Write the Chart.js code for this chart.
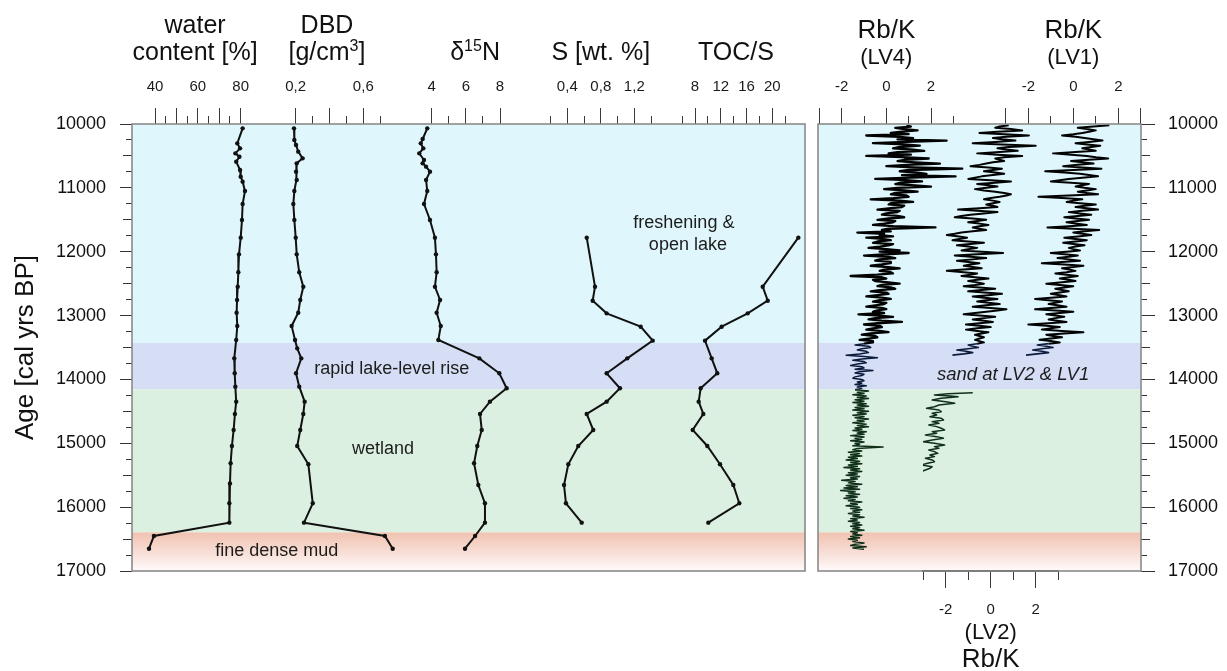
<!DOCTYPE html>
<html>
<head>
<meta charset="utf-8">
<script src="https://cdn.jsdelivr.net/npm/chart.js@4.4.1/dist/chart.umd.min.js"></script>
<style>
  html, body { margin: 0; padding: 0; background: #fff; }
  #page { position: relative; width: 1227px; height: 671px; overflow: hidden; }
  #geo { position: absolute; left: 0; top: 0; }
  #xrf { position: absolute; left: 812px; top: 0; }
</style>
</head>
<body>
<div id="page">
  <canvas id="geo" width="812" height="671"></canvas>
  <canvas id="xrf" width="415" height="671"></canvas>
</div>
<script>
// ---------- age axis (cal yrs BP) ----------
const ageLabels = [10000, 11000, 12000, 13000, 14000, 15000, 16000, 17000];
// environmental zones: open lake / lake-level rise / wetland / fine dense mud
const zoneBounds = [10000, 13430, 14155, 16395, 17000];

// ---------- bulk sediment parameters ----------
const waterAge = [10068, 10303, 10381, 10460, 10512, 10590, 10720, 10825, 10903, 11049, 11253, 11503, 11780, 12041, 12322, 12548, 12756, 12955, 13163, 13382, 13670, 13904, 14113, 14348, 14541, 14792, 15042, 15313, 15630, 15940, 16243, 16452, 16651];
const waterContent = [80.9, 78.4, 79.7, 77.5, 79.4, 77.9, 79.7, 80.0, 80.9, 82.0, 80.9, 80.6, 80.0, 79.2, 78.9, 78.6, 78.3, 78.1, 78.4, 77.9, 77.0, 77.2, 77.5, 77.9, 77.3, 76.7, 75.9, 75.3, 75.0, 74.7, 74.7, 39.5, 37.2];

const dbdAge = [10068, 10251, 10329, 10433, 10538, 10616, 10746, 10877, 11049, 11253, 11503, 11780, 12041, 12322, 12548, 12756, 12955, 13163, 13382, 13513, 13670, 13904, 14113, 14348, 14541, 14792, 15042, 15329, 15940, 16243, 16452, 16651];
const dryBulkDensity = [0.190, 0.192, 0.202, 0.215, 0.241, 0.206, 0.202, 0.206, 0.192, 0.186, 0.192, 0.200, 0.206, 0.221, 0.245, 0.227, 0.215, 0.176, 0.196, 0.209, 0.233, 0.202, 0.221, 0.253, 0.245, 0.227, 0.209, 0.275, 0.301, 0.249, 0.728, 0.774];

const n15Age = [10068, 10235, 10303, 10381, 10460, 10564, 10616, 10668, 10746, 10877, 11049, 11253, 11503, 11780, 12041, 12322, 12548, 12756, 12955, 13163, 13382, 13670, 13904, 14139, 14348, 14541, 14792, 15042, 15313, 15653, 15940, 16243, 16452, 16651];
const delta15N = [3.74, 3.47, 3.36, 3.51, 3.27, 3.55, 3.47, 3.67, 3.90, 3.67, 3.74, 3.55, 3.90, 4.19, 4.25, 4.29, 4.19, 4.49, 4.29, 4.53, 4.39, 6.79, 7.96, 8.39, 7.41, 6.83, 6.93, 6.67, 6.48, 6.73, 7.12, 7.12, 6.54, 5.95];

const chemAge = [11780, 12548, 12767, 12965, 13174, 13393, 13670, 13904, 14139, 14348, 14541, 14792, 15042, 15329, 15653, 15940, 16243];
const sulfur = [0.632, 0.731, 0.703, 0.870, 1.276, 1.420, 1.116, 0.870, 1.029, 0.870, 0.632, 0.710, 0.531, 0.412, 0.361, 0.384, 0.572];
const tocToS = [24.04, 18.51, 19.29, 16.18, 12.14, 9.55, 10.59, 11.46, 8.88, 8.57, 9.29, 7.64, 9.91, 11.88, 13.95, 14.88, 10.07];

// ---------- XRF Rb/K scans, [age, standardised Rb/K] ----------
const rbkLV4 = [
  [10020, 0.9], [10040, 1.1], [10060, 0.4], [10080, 0.8], [10100, 1.4], [10120, 0.7], [10140, 0.2], [10160, 1.0], [10180, -0.9], [10200, 0.6],
  [10220, 1.2], [10240, 0.5], [10260, 2.7], [10280, 0.9], [10300, -0.6], [10320, 0.8], [10340, 1.5], [10360, 0.6], [10380, 0.3], [10400, 1.2],
  [10420, 1.7], [10440, 0.5], [10460, 0.1], [10480, 1.1], [10500, -0.9], [10520, 0.7], [10540, 1.9], [10560, 0.8], [10580, 0.5], [10600, 1.3],
  [10620, 2.4], [10640, 0.9], [10660, 0.0], [10680, 1.2], [10700, 3.4], [10720, 1.0], [10740, 0.6], [10760, 1.4], [10780, 1.8], [10800, 0.7],
  [10820, 3.1], [10840, 1.1], [10860, -0.5], [10880, 0.9], [10900, 1.6], [10920, 0.6], [10940, 0.4], [10960, 1.3], [10980, 2.0], [11000, 0.5],
  [11020, -0.1], [11040, 0.8], [11060, 1.4], [11080, 0.4], [11100, 0.2], [11120, 0.9], [11140, 1.0], [11160, 0.3], [11180, -0.7], [11200, 0.6],
  [11220, 1.2], [11240, 0.2], [11260, 0.1], [11280, 0.8], [11300, 0.7], [11320, 0.1], [11340, -0.4], [11360, 0.6], [11380, 0.5], [11400, 0.0],
  [11420, -0.2], [11440, 0.5], [11460, 0.8], [11480, 0.1], [11500, -0.4], [11520, 0.4], [11540, 0.3], [11560, -0.1], [11580, -0.6], [11600, 0.3],
  [11620, 2.2], [11640, 0.1], [11660, -0.2], [11680, 0.2], [11700, -1.3], [11720, -0.1], [11740, -0.3], [11760, 0.3], [11780, -0.9], [11800, -0.2],
  [11820, 0.2], [11840, -0.4], [11860, -0.6], [11880, 0.3], [11900, 0.1], [11920, -0.3], [11940, -0.8], [11960, 0.0], [11980, 0.6], [12000, -0.3],
  [12020, 1.0], [12040, 0.0], [12060, -1.0], [12080, 0.1], [12100, 0.4], [12120, -0.3], [12140, -0.5], [12160, 0.2], [12180, 0.2], [12200, -0.2],
  [12220, -0.7], [12240, 0.1], [12260, 0.6], [12280, -0.1], [12300, -0.3], [12320, 0.2], [12340, 0.3], [12360, -0.4], [12380, -1.6], [12400, -0.2],
  [12420, 0.0], [12440, -0.6], [12460, -0.5], [12480, 0.1], [12500, 0.6], [12520, -0.2], [12540, -0.4], [12560, 0.2], [12580, 0.4], [12600, -0.3],
  [12620, -0.7], [12640, 0.0], [12660, 0.1], [12680, -0.4], [12700, -0.9], [12720, -0.2], [12740, 0.2], [12760, -0.3], [12780, -0.6], [12800, 0.0],
  [12820, -0.1], [12840, -0.5], [12860, -0.9], [12880, -0.2], [12900, 0.0], [12920, -0.4], [12940, -0.6], [12960, -0.1], [12980, -1.25], [13000, -0.3],
  [13020, 0.3], [13040, -0.5], [13060, -0.8], [13080, -0.2], [13100, 0.7], [13120, -0.4], [13140, -1.0], [13160, -0.3], [13180, -0.2], [13200, -0.6],
  [13220, -0.9], [13240, -0.3], [13260, 0.1], [13280, -0.7], [13300, -1.1], [13320, -0.5], [13340, -0.4], [13360, -0.8], [13380, -1.2], [13400, -0.6],
  [13420, -0.6], [13440, -1.0], [13460, -1.4], [13480, -0.8], [13500, -0.7], [13520, -1.1], [13540, -1.3], [13560, -0.9], [13580, -0.8], [13600, -1.2],
  [13620, -1.8], [13640, -1.0], [13660, -0.4], [13680, -1.1], [13700, -1.5], [13720, -1.0], [13740, -0.9], [13760, -1.3], [13780, -1.6], [13800, -1.1],
  [13820, -1.0], [13840, -1.4], [13860, -0.6], [13880, -1.2], [13900, -1.4], [13920, -1.0], [13940, -1.1], [13960, -1.4], [13980, -1.5], [14000, -1.1],
  [14020, -1.0], [14040, -1.3], [14060, -1.1], [14080, -1.4], [14100, -0.9], [14120, -1.3], [14140, -1.1], [14160, -1.4], [14180, -0.8], [14200, -1.3],
  [14220, -1.0], [14240, -1.5], [14260, -0.9], [14280, -1.3], [14300, -0.8], [14320, -1.4], [14340, -1.0], [14360, -1.5], [14380, -0.9], [14400, -1.3],
  [14420, -0.8], [14440, -1.4], [14460, -1.0], [14480, -1.5], [14500, -0.8], [14520, -1.3], [14540, -0.9], [14560, -1.5], [14580, -1.0], [14600, -1.4],
  [14620, -0.8], [14640, -1.3], [14660, -1.0], [14680, -1.5], [14700, -0.9], [14720, -1.3], [14740, -0.8], [14760, -1.4], [14780, -1.1], [14800, -1.5],
  [14820, -0.9], [14840, -1.3], [14860, -1.0], [14880, -1.6], [14900, -1.0], [14920, -1.4], [14940, -1.1], [14960, -1.6], [14980, -1.0], [15000, -1.4],
  [15020, -1.2], [15040, -1.5], [15060, -0.15], [15080, -1.3], [15100, -1.5], [15120, -1.1], [15140, -1.7], [15160, -1.2], [15180, -1.6], [15200, -1.1],
  [15220, -1.7], [15240, -1.3], [15260, -1.8], [15280, -1.2], [15300, -1.6], [15320, -1.1], [15340, -1.7], [15360, -1.3], [15380, -1.9], [15400, -1.2],
  [15420, -1.6], [15440, -1.1], [15460, -1.7], [15480, -1.3], [15500, -1.8], [15520, -1.2], [15540, -1.6], [15560, -1.3], [15580, -2.0], [15600, -1.4],
  [15620, -1.7], [15640, -1.1], [15660, -1.8], [15680, -1.3], [15700, -1.9], [15720, -1.2], [15740, -2.05], [15760, -1.4], [15780, -1.7], [15800, -1.2],
  [15820, -1.8], [15840, -1.3], [15860, -1.9], [15880, -1.4], [15900, -1.7], [15920, -1.1], [15940, -1.6], [15960, -1.3], [15980, -1.8], [16000, -1.2],
  [16020, -1.6], [16040, -1.1], [16060, -1.5], [16080, -1.2], [16100, -1.7], [16120, -1.2], [16140, -1.5], [16160, -1.0], [16180, -1.6], [16200, -1.3],
  [16220, -1.7], [16240, -1.2], [16260, -1.5], [16280, -1.1], [16300, -1.6], [16320, -1.2], [16340, -1.5], [16360, -1.0], [16380, -1.6], [16400, -1.3],
  [16420, -1.5], [16440, -1.1], [16460, -1.6], [16480, -1.2], [16500, -1.7], [16520, -1.3], [16540, -1.5], [16560, -1.0], [16580, -1.4], [16600, -1.6],
  [16620, -0.9], [16640, -1.5], [16660, -1.0]
];

const rbkLV2Upper = [
  [10020, 0.8], [10040, 0.4], [10060, 0.2], [10080, 0.9], [10100, 1.4], [10120, 0.3], [10140, -0.5], [10160, 0.6], [10180, 1.7], [10200, 0.7],
  [10220, 0.1], [10240, 0.5], [10260, 1.1], [10280, 0.2], [10300, -0.8], [10320, 0.5], [10340, 2.0], [10360, 0.8], [10380, 0.3], [10400, 0.7],
  [10420, 1.2], [10440, 0.4], [10460, -0.6], [10480, 0.3], [10500, 1.4], [10520, 0.6], [10540, 0.2], [10560, 0.4], [10580, 0.6], [10600, 0.1],
  [10620, -0.2], [10640, -0.5], [10660, -0.9], [10680, -0.1], [10700, 0.5], [10720, 0.1], [10740, -0.3], [10760, 0.2], [10780, 0.6], [10800, 0.1],
  [10820, -0.4], [10840, -0.7], [10860, -1.0], [10880, 0.0], [10900, 0.9], [10920, 0.2], [10940, -0.6], [10960, -0.1], [10980, 0.3], [11000, -0.2],
  [11020, -0.7], [11040, -0.3], [11060, 0.2], [11080, 0.6], [11100, 0.9], [11120, 0.7], [11140, 0.4], [11160, 0.0], [11180, -0.3], [11200, 0.1],
  [11220, 0.4], [11240, 0.1], [11260, -0.2], [11280, 0.1], [11300, 0.3], [11320, -0.5], [11340, -1.45], [11360, -0.6], [11380, 0.3], [11400, -0.3],
  [11420, -0.9], [11440, -1.3], [11460, -1.6], [11480, -0.8], [11500, -0.2], [11520, -0.6], [11540, -1.0], [11560, -0.5], [11580, -0.1], [11600, -0.5],
  [11620, -0.8], [11640, -0.5], [11660, -0.2], [11680, -0.8], [11700, -1.3], [11720, -1.6], [11740, -1.95], [11760, -1.4], [11780, -1.05], [11800, -1.4],
  [11820, -1.7], [11840, -1.0], [11860, -0.3], [11880, -0.9], [11900, -1.5], [11920, -1.0], [11940, -0.6], [11960, -1.0], [11980, -1.3], [12000, -0.4],
  [12020, 0.55], [12040, -0.6], [12060, -1.6], [12080, -0.9], [12100, -0.2], [12120, -0.8], [12140, -1.5], [12160, -1.0], [12180, -0.5], [12200, -0.9],
  [12220, -1.2], [12240, -0.8], [12260, -0.4], [12280, -1.2], [12300, -1.95], [12320, -1.2], [12340, -0.6], [12360, -0.9], [12380, -1.3], [12400, -0.7],
  [12420, -0.1], [12440, -0.6], [12460, -1.0], [12480, -0.6], [12500, -0.3], [12520, -0.7], [12540, -1.2], [12560, -0.5], [12580, 0.2], [12600, -0.4],
  [12620, -1.0], [12640, -0.3], [12660, 0.5], [12680, -0.1], [12700, -0.8], [12720, -0.3], [12740, 0.3], [12760, -0.2], [12780, -0.6], [12800, -0.1],
  [12820, 0.4], [12840, -0.2], [12860, -0.8], [12880, 0.0], [12900, 0.7], [12920, 0.3], [12940, -0.2], [12960, -0.7], [12980, -1.2], [13000, -0.5],
  [13020, 0.2], [13040, -0.3], [13060, -0.8], [13080, -0.3], [13100, 0.1], [13120, -0.5], [13140, -1.1], [13160, -0.5], [13180, 0.0], [13200, -0.6],
  [13220, -1.1], [13240, -0.6], [13260, -0.1], [13280, -0.4], [13300, -0.7], [13320, -0.5], [13340, -0.3], [13360, -0.5], [13380, -0.7], [13400, -0.5],
  [13420, -0.3], [13440, -0.6], [13460, -1.0], [13480, -0.8], [13500, -0.55], [13520, -1.0], [13540, -1.5], [13560, -1.1], [13580, -0.8], [13600, -1.2],
  [13620, -1.7]
];

const rbkLV2Lower = [
  [14207, -0.8], [14225, -1.9], [14244, -2.5], [14258, -1.8], [14270, -1.45], [14296, -2.2], [14322, -2.6], [14348, -2.0], [14374, -1.6], [14400, -2.3],
  [14427, -2.5], [14453, -2.85], [14479, -2.3], [14505, -2.2], [14531, -2.6], [14557, -2.4], [14583, -2.7], [14609, -2.2], [14635, -2.1], [14661, -2.6],
  [14687, -2.3], [14713, -2.75], [14739, -2.4], [14765, -2.2], [14792, -2.05], [14818, -2.6], [14844, -2.4], [14870, -2.9], [14896, -2.4], [14922, -2.1],
  [14948, -2.6], [14975, -3.0], [15001, -2.5], [15027, -2.05], [15053, -2.5], [15079, -2.3], [15105, -2.75], [15131, -2.5], [15157, -2.35], [15183, -2.7],
  [15209, -2.5], [15235, -2.9], [15261, -2.6], [15288, -2.5], [15314, -2.8], [15340, -3.1], [15366, -2.6], [15392, -2.7], [15418, -2.9], [15444, -3.1]
];

const rbkLV1 = [
  [10020, 1.6], [10040, 0.9], [10060, 0.2], [10080, 0.6], [10100, 1.0], [10120, 0.7], [10140, 0.4], [10160, 0.0], [10180, -0.5], [10200, 0.1],
  [10220, 0.5], [10240, 0.9], [10260, 1.3], [10280, 0.7], [10300, 0.1], [10320, 0.6], [10340, 1.2], [10360, 0.8], [10380, 0.4], [10400, 0.7],
  [10420, 1.0], [10440, 0.1], [10460, -0.9], [10480, -0.1], [10500, 0.6], [10520, 1.0], [10540, 1.55], [10560, 0.7], [10580, -0.1], [10600, 0.4],
  [10620, 0.9], [10640, 0.2], [10660, -0.45], [10680, 0.4], [10700, 1.25], [10720, 0.0], [10740, -1.25], [10760, -0.4], [10780, 0.3], [10800, 0.7],
  [10820, 1.1], [10840, 0.4], [10860, -0.2], [10880, -0.6], [10900, -1.0], [10920, -0.1], [10940, 0.7], [10960, 0.4], [10980, 0.1], [11000, 0.5],
  [11020, 1.0], [11040, 0.6], [11060, 0.2], [11080, 0.6], [11100, 1.1], [11120, -0.2], [11140, -1.55], [11160, -0.5], [11180, 0.4], [11200, 0.0],
  [11220, -0.3], [11240, 0.3], [11260, 1.0], [11280, 0.5], [11300, 0.1], [11320, 0.6], [11340, 1.1], [11360, 0.4], [11380, -0.2], [11400, 0.3],
  [11420, 0.8], [11440, 0.2], [11460, -0.4], [11480, 0.1], [11500, 0.7], [11520, 0.2], [11540, -0.3], [11560, 0.1], [11580, 0.6], [11600, -0.2],
  [11620, -1.15], [11640, 0.0], [11660, 1.15], [11680, 0.5], [11700, 0.0], [11720, 0.4], [11740, 0.8], [11760, 0.2], [11780, -0.4], [11800, 0.1],
  [11820, 0.6], [11840, 0.1], [11860, -0.45], [11880, 0.0], [11900, 0.5], [11920, 0.1], [11940, -0.2], [11960, 0.0], [11980, 0.3], [12000, -0.3],
  [12020, -1.0], [12040, -0.4], [12060, 0.2], [12080, -0.2], [12100, -0.7], [12120, -0.2], [12140, 0.3], [12160, -0.5], [12180, -1.4], [12200, -0.4],
  [12220, 0.45], [12240, 0.0], [12260, -0.5], [12280, -0.2], [12300, 0.1], [12320, -0.3], [12340, -0.8], [12360, -0.3], [12380, 0.2], [12400, -0.2],
  [12420, -0.6], [12440, -0.2], [12460, 0.1], [12480, -0.5], [12500, -1.2], [12520, -0.6], [12540, 0.0], [12560, -0.4], [12580, -0.8], [12600, -0.5],
  [12620, -0.2], [12640, -0.6], [12660, -1.0], [12680, -0.6], [12700, -0.3], [12720, -1.0], [12740, -1.7], [12760, -1.1], [12780, -0.5], [12800, -0.8],
  [12820, -1.1], [12840, -0.7], [12860, -0.3], [12880, -1.0], [12900, -1.7], [12920, -0.8], [12940, 0.0], [12960, -0.6], [12980, -1.2], [13000, -0.8],
  [13020, -0.4], [13040, -0.8], [13060, -1.1], [13080, -0.7], [13100, -0.3], [13120, -1.1], [13140, -2.0], [13160, -1.2], [13180, -0.6], [13200, -1.0],
  [13220, -1.4], [13240, -0.5], [13260, 0.45], [13280, -0.4], [13300, -1.2], [13320, -0.9], [13340, -0.5], [13360, -1.0], [13380, -1.5], [13400, -1.0],
  [13420, -0.6], [13440, -1.1], [13460, -1.6], [13480, -1.2], [13500, -0.9], [13520, -1.4], [13540, -1.8], [13560, -1.4], [13580, -1.1], [13600, -1.6],
  [13620, -2.1]
];

// ---------- axis tick values ----------
const waterTicks = [40, 45, 50, 55, 60, 65, 70, 75, 80];
const waterLabels = [40, 60, 80];
const dbdTicks = [0.2, 0.3, 0.4, 0.5, 0.6, 0.7];
const dbdLabels = [0.2, 0.6];
const n15Ticks = [4, 5, 6, 7, 8];
const n15Labels = [4, 6, 8];
const sulfurTicks = [0.2, 0.4, 0.6, 0.8, 1.0, 1.2, 1.4];
const sulfurLabels = [0.4, 0.8, 1.2];
const tocTicks = [6, 8, 10, 12, 14, 16, 18, 20, 22];
const tocLabels = [8, 12, 16, 20];
const rbkTicks = [-3, -2, -1, 0, 1, 2, 3];
const rbkLabels = [-2, 0, 2];

// ---------- zone notes ----------
const zoneNotes = ['rapid lake-level rise', 'wetland', 'fine dense mud'];
const lakeNote = ['freshening &', 'open lake'];
const sandNote = 'sand at LV2 & LV1';

// =================================================================
const FONT = "'Liberation Sans', Arial, Helvetica, sans-serif";
Chart.defaults.font.family = FONT;
Chart.defaults.color = '#111';

const ZONE_FILL = ['#dff7fc', '#d5def4', '#dcf0e1'];
const DOT_INK = '#111';

// every 250 yr: minor ticks between labelled millennia
const ageTicks = [];
ageLabels.forEach((a, i) => {
  ageTicks.push(a);
  if (i < ageLabels.length - 1) {
    const step = (ageLabels[i + 1] - a) / 4;
    ageTicks.push(a + step, a + 2 * step, a + 3 * step);
  }
});

function pairs(ages, vals) {
  return ages.map((a, i) => ({ x: vals[i], y: a }));
}
function scanPoints(rows) {
  return rows.map(r => ({ x: r[1], y: r[0] }));
}
function commaFmt(v) { return v.toFixed(1).replace('.', ','); }

// value range for an axis column: two reference values at given pixels, column from..to
function span(v1, p1, v2, p2, from, to) {
  const k = (p2 - p1) / (v2 - v1);
  return { min: v1 - (p1 - from) / k, max: v1 + (to - p1) / k };
}

// the tick mark is drawn only over its inner part; the rest of tickLength acts as label gap
const TICK_LONG = 16, TICK_SHORT = 8;
function valueAxis(c) {
  const r = span(c.v1, c.p1, c.v2, c.p2, c.from, c.to);
  const top = c.position === 'top';
  const tl = c.reach;
  const dash = len => top ? [0, tl - len, len, 0] : [len, 200];
  return {
    type: 'linear', position: c.position, stack: c.position, stackWeight: c.to - c.from, weight: c.weight,
    bounds: 'data', min: r.min, max: r.max,
    afterBuildTicks: s => { s.ticks = c.ticks.map(v => ({ value: v })); },
    afterFit: s => { s.height = c.height; },
    border: c.border || { display: false },
    grid: {
      drawOnChartArea: false, drawTicks: true, tickLength: tl, tickColor: '#3a3a3a', tickWidth: 1,
      tickBorderDash: ctx => dash(ctx.tick && !c.major.includes(ctx.tick.value) ? TICK_SHORT : TICK_LONG)
    },
    ticks: {
      autoSkip: false, maxRotation: 0, minRotation: 0, padding: 0, color: '#1a1a1a',
      font: { family: FONT, size: 15 },
      callback: v => c.labels.includes(v) ? c.fmt(v) : ''
    }
  };
}

function spacerAxis(position, weight, from, to, height) {
  return {
    type: 'linear', position, stack: position, stackWeight: to - from, weight, min: 0, max: 1,
    afterFit: s => { s.height = height; },
    border: { display: false }, grid: { display: false }, ticks: { display: false }
  };
}

function ageAxis(position) {
  const left = position === 'left';
  const tl = left ? 12 : 14;
  return {
    type: 'linear', position, reverse: true, bounds: 'data',
    min: ageLabels[0], max: ageLabels[ageLabels.length - 1],
    afterBuildTicks: s => { s.ticks = ageTicks.map(v => ({ value: v })); },
    afterFit: s => { s.width = left ? 132 : 86; },
    border: { display: false },
    grid: {
      drawOnChartArea: false, tickLength: tl, tickColor: '#333', tickWidth: 1,
      tickBorderDash: ctx => {
        if (!ctx.tick) return [];
        const v = ctx.tick.value;
        if (v % 1000 === 0) return [];
        const s = v % 500 === 0 ? 9 : 6;
        return left ? [0, tl - s, s, 0] : [s, 60];
      }
    },
    ticks: {
      autoSkip: false, padding: left ? 14 : 13, color: '#111', font: { family: FONT, size: 18 },
      callback: v => ageLabels.includes(v) ? String(v) : ''
    },
    title: left
      ? { display: true, text: 'Age [cal yrs BP]', color: '#111', font: { family: FONT, size: 26 }, padding: { top: 10, bottom: 0 } }
      : { display: false }
  };
}

// scan traces are inked by zone: black in the open-lake part, dark navy in the sand, dark green below
function inkForAge(age) {
  if (age < zoneBounds[1]) return '#020202';
  if (age < zoneBounds[2]) return '#0c1a3c';
  return '#10301a';
}

function drawRuns(ctx, runs, cx, baseline, size) {
  const fontOf = r => `${r.sup ? Math.round(size * 0.64) : size}px ${FONT}`;
  let total = 0;
  const widths = runs.map(r => { ctx.font = fontOf(r); const w = ctx.measureText(r.t).width; total += w; return w; });
  let x = cx - total / 2;
  ctx.textAlign = 'left';
  ctx.textBaseline = 'alphabetic';
  runs.forEach((r, i) => {
    ctx.font = fontOf(r);
    ctx.fillText(r.t, x, r.sup ? baseline - size * 0.36 : baseline);
    x += widths[i];
  });
}

// zone backgrounds, panel frame, axis titles and notes
const panelDecor = {
  id: 'panelDecor',
  beforeDraw(chart) {
    const { ctx, chartArea: a } = chart;
    const y = chart.scales.age;
    ctx.save();
    for (let i = 0; i < zoneBounds.length - 1; i++) {
      const y0 = y.getPixelForValue(zoneBounds[i]);
      const y1 = y.getPixelForValue(zoneBounds[i + 1]);
      if (i < 3) {
        ctx.fillStyle = ZONE_FILL[i];
      } else {
        const g = ctx.createLinearGradient(0, y0, 0, y1);
        g.addColorStop(0, '#f0c2b1');
        g.addColorStop(0.55, '#f8e0d8');
        g.addColorStop(1, '#fffbfa');
        ctx.fillStyle = g;
      }
      ctx.fillRect(a.left, y0, a.right - a.left, y1 - y0);
    }
    ctx.restore();
  },
  afterDatasetsDraw(chart) {
    const { ctx, chartArea: a } = chart;
    ctx.save();
    ctx.strokeStyle = '#8a8a8a';
    ctx.lineWidth = 1.6;
    ctx.strokeRect(a.left, a.top, a.right - a.left, a.bottom - a.top);
    ctx.restore();
  },
  afterDraw(chart, args, opts) {
    const { ctx, chartArea: a } = chart;
    const y = chart.scales.age;
    ctx.save();
    ctx.fillStyle = '#111';
    (opts.titles || []).forEach(t => {
      const cx = chart.scales[t.axis].getPixelForValue(t.at);
      drawRuns(ctx, t.runs, cx, t.baseline, t.size);
    });
    ctx.fillStyle = '#1c1c1c';
    (opts.notes || []).forEach(n => {
      const cx = a.left + n.fx * (a.right - a.left);
      ctx.font = `${n.italic ? 'italic ' : ''}${n.size}px ${FONT}`;
      ctx.textAlign = 'center';
      ctx.textBaseline = 'middle';
      ctx.fillText(n.text, cx, y.getPixelForValue(n.age));
    });
    ctx.restore();
  }
};

const dotted = (axis, data) => ({
  xAxisID: axis, yAxisID: 'age', data, showLine: true, tension: 0,
  borderColor: DOT_INK, borderWidth: 2, pointRadius: 2.2, pointBackgroundColor: DOT_INK, pointBorderWidth: 0
});
const scanLine = (axis, rows, upperWidth, lowerWidth) => ({
  xAxisID: axis, yAxisID: 'age', data: scanPoints(rows), showLine: true, tension: 0,
  borderColor: '#020202', borderWidth: upperWidth, pointRadius: 0, borderJoinStyle: 'round',
  segment: {
    borderColor: c => inkForAge(c.p0.parsed.y),
    borderWidth: c => c.p0.parsed.y < zoneBounds[1] ? upperWidth : lowerWidth
  }
});

const baseOptions = {
  responsive: false, animation: false, events: [],
  plugins: { legend: { display: false }, tooltip: { enabled: false } }
};

// ---------------- left panel: bulk sediment and geochemistry ----------------
const topAxis = extra => valueAxis(Object.assign({ position: 'top', height: 50, reach: 28, fmt: v => String(v) }, extra));

new Chart(document.getElementById('geo'), {
  type: 'scatter',
  data: {
    datasets: [
      dotted('wc', pairs(waterAge, waterContent)),
      dotted('dbd', pairs(dbdAge, dryBulkDensity)),
      dotted('n15', pairs(n15Age, delta15N)),
      dotted('s', pairs(chemAge, sulfur)),
      dotted('tocs', pairs(chemAge, tocToS))
    ]
  },
  options: {
    ...baseOptions,
    layout: { padding: { left: 0, top: 74, right: 7, bottom: 100 } },
    scales: {
      age: ageAxis('left'),
      wc: topAxis({ weight: 5, from: 132, to: 268, v1: 40, p1: 155, v2: 80, p2: 240.7, ticks: waterTicks, major: [40, 50, 60, 70, 80], labels: waterLabels }),
      dbd: topAxis({ weight: 4, from: 268, to: 400, v1: 0.2, p1: 295.7, v2: 0.6, p2: 363.3, ticks: dbdTicks, major: [0.2, 0.4, 0.6], labels: dbdLabels, fmt: commaFmt }),
      n15: topAxis({ weight: 3, from: 400, to: 530, v1: 4, p1: 431.7, v2: 8, p2: 500, ticks: n15Ticks, major: [4, 6, 8], labels: n15Labels }),
      s: topAxis({ weight: 2, from: 530, to: 665, v1: 0.4, p1: 567.3, v2: 1.2, p2: 634.3, ticks: sulfurTicks, major: [0.4, 0.8, 1.2], labels: sulfurLabels, fmt: commaFmt }),
      tocs: topAxis({ weight: 1, from: 665, to: 805, v1: 8, p1: 695, v2: 20, p2: 772.3, ticks: tocTicks, major: [8, 12, 16, 20], labels: tocLabels })
    },
    plugins: {
      ...baseOptions.plugins,
      panelDecor: {
        titles: [
          { axis: 'wc', at: 58.7, baseline: 33, size: 25, runs: [{ t: 'water' }] },
          { axis: 'wc', at: 58.7, baseline: 60, size: 25, runs: [{ t: 'content [%]' }] },
          { axis: 'dbd', at: 0.385, baseline: 33, size: 25, runs: [{ t: 'DBD' }] },
          { axis: 'dbd', at: 0.385, baseline: 60, size: 25, runs: [{ t: '[g/cm' }, { t: '3', sup: true }, { t: ']' }] },
          { axis: 'n15', at: 6.54, baseline: 60, size: 25, runs: [{ t: 'δ' }, { t: '15', sup: true }, { t: 'N' }] },
          { axis: 's', at: 0.8, baseline: 60, size: 25, runs: [{ t: 'S [wt. %]' }] },
          { axis: 'tocs', at: 14.36, baseline: 60, size: 25, runs: [{ t: 'TOC/S' }] }
        ],
        notes: [
          { text: zoneNotes[0], age: 13840, fx: 0.386, size: 18 },
          { text: zoneNotes[1], age: 15090, fx: 0.373, size: 18 },
          { text: zoneNotes[2], age: 16690, fx: 0.215, size: 18 },
          { text: lakeNote[0], age: 11550, fx: 0.820, size: 18 },
          { text: lakeNote[1], age: 11895, fx: 0.826, size: 18 }
        ]
      }
    }
  },
  plugins: [panelDecor]
});

// ---------------- right panel: XRF Rb/K scans ----------------
new Chart(document.getElementById('xrf'), {
  type: 'scatter',
  data: {
    datasets: [
      scanLine('lv4', rbkLV4, 2.3, 1.5),
      scanLine('lv2', rbkLV2Upper, 2.0, 1.6),
      scanLine('lv2', rbkLV2Lower, 1.5, 1.5),
      scanLine('lv1', rbkLV1, 2.0, 1.6)
    ]
  },
  options: {
    ...baseOptions,
    layout: { padding: { left: 6, top: 74, right: 0, bottom: 50 } },
    scales: {
      age: ageAxis('right'),
      lv4: topAxis({ weight: 2, from: 818, to: 980, v1: -2, p1: 841.7, v2: 2, p2: 931, ticks: rbkTicks, major: [-3, -2, 0, 2], labels: rbkLabels }),
      lv1: topAxis({ weight: 1, from: 980, to: 1141, v1: -2, p1: 1028.3, v2: 2, p2: 1118.3, ticks: rbkTicks, major: [-3, -2, 0, 2, 3], labels: rbkLabels }),
      padL: spacerAxis('bottom', 1, 818, 923, 50),
      lv2: valueAxis({ position: 'bottom', weight: 2, height: 50, reach: 30, fmt: v => String(v), from: 923, to: 1058, v1: -2, p1: 945.7, v2: 2, p2: 1035.7, ticks: rbkTicks, major: [-2, 0, 2], labels: rbkLabels, border: { display: true, color: '#505050', width: 2 } }),
      padR: spacerAxis('bottom', 3, 1058, 1141, 50)
    },
    plugins: {
      ...baseOptions.plugins,
      panelDecor: {
        titles: [
          { axis: 'lv4', at: 0, baseline: 38, size: 26, runs: [{ t: 'Rb/K' }] },
          { axis: 'lv4', at: 0, baseline: 64, size: 22, runs: [{ t: '(LV4)' }] },
          { axis: 'lv1', at: 0, baseline: 38, size: 26, runs: [{ t: 'Rb/K' }] },
          { axis: 'lv1', at: 0, baseline: 64, size: 22, runs: [{ t: '(LV1)' }] },
          { axis: 'lv2', at: 0, baseline: 639, size: 22, runs: [{ t: '(LV2)' }] },
          { axis: 'lv2', at: 0, baseline: 667, size: 26, runs: [{ t: 'Rb/K' }] }
        ],
        notes: [
          { text: sandNote, age: 13930, fx: 0.604, size: 18.5, italic: true }
        ]
      }
    }
  },
  plugins: [panelDecor]
});
</script>
</body>
</html>
